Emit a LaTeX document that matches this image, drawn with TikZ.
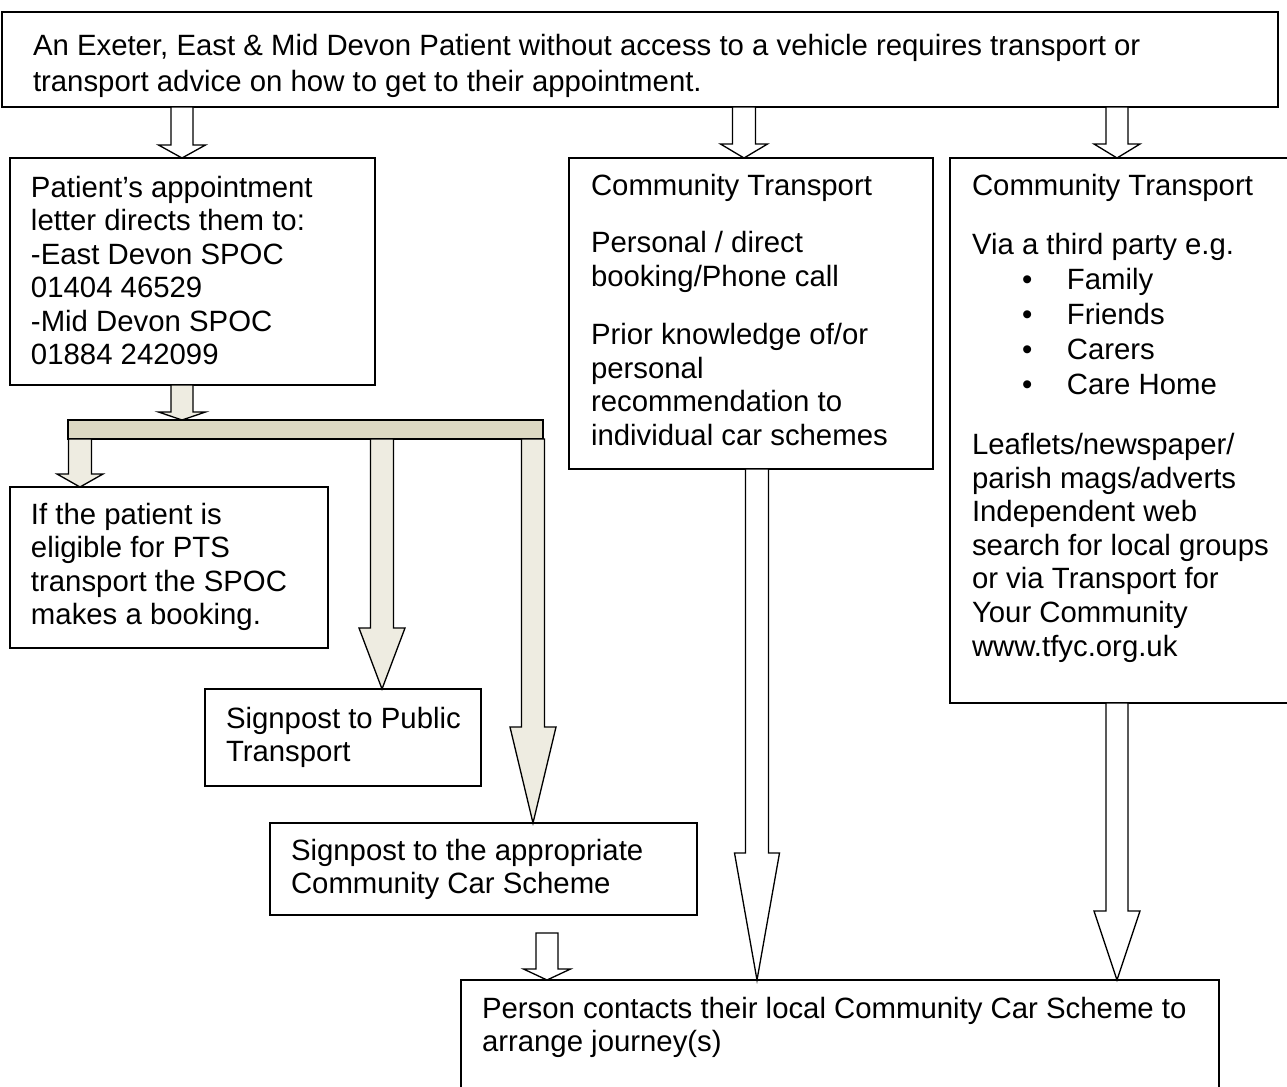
\documentclass[tikz,border=0pt]{standalone}
\usepackage{fontspec}
\setmainfont{Liberation Sans}
\usetikzlibrary{calc,fit}
\definecolor{beigeL}{HTML}{EEECE1}
\definecolor{beigeD}{HTML}{DDD9C3}
\def\pxu{0.56906pt}
% #1 style, #2 start coordinate, #3 tip coordinate, #4 shaft half width (px), #5 head half width (px), #6 head length (px)
\newcommand\blkarrow[6]{%
  \path[#1] let \p1=(#2), \p2=(#3) in
    ({\x1-#4*\pxu},\y1) -- ({\x1-#4*\pxu},{\y2+#6*\pxu}) -- ({\x1-#5*\pxu},{\y2+#6*\pxu})
    -- (\x1,\y2) -- ({\x1+#5*\pxu},{\y2+#6*\pxu}) -- ({\x1+#4*\pxu},{\y2+#6*\pxu})
    -- ({\x1+#4*\pxu},\y1) -- cycle;}
\newcommand\bulitem{\hspace*{28.5pt}\makebox[25.5pt][l]{•}}
\begin{document}
\begin{tikzpicture}[x=0.02cm,y=-0.02cm,
  box/.style={draw=black,line width=1pt,fill=white,inner sep=0pt,outer sep=0pt},
  barbox/.style={draw=black,line width=1pt,fill=beigeD,inner sep=0pt,outer sep=0pt},
  txt/.style={anchor=north west,inner sep=0pt,outer sep=0pt,align=left,yshift=20pt,
    font=\fontsize{16.7}{19.1}\selectfont},
  hollow/.style={draw=black,line width=0.75pt,fill=white,line join=miter},
  beige/.style={draw=black,line width=0.75pt,fill=beigeL,line join=miter}]
\useasboundingbox (0,0) rectangle (1287,1086);

% boxes
\node[box,fit={(2,12)(1278,107)}] (top) {};
\node[box,fit={(10,158)(375,385)}] (patient) {};
\node[box,fit={(569,158)(933,469)}] (ctA) {};
\node[box,fit={(950,158)(1296,703)}] (ctB) {};
\node[barbox,fit={(68,420)(543,439)}] (bar) {};
\node[box,fit={(10,487)(328,648)}] (pts) {};
\node[box,fit={(205,689)(481,786)}] (public) {};
\node[box,fit={(270,823)(697,915)}] (ccs) {};
\node[box,fit={(461,980)(1219,1100)}] (final) {};
\coordinate (gapA) at (547,933);

% arrows
\blkarrow{hollow}{182,0 |- top.south}{182,0 |- patient.north}{11}{23.5}{13}
\blkarrow{hollow}{744,0 |- top.south}{744,0 |- ctA.north}{11.5}{23.5}{14}
\blkarrow{hollow}{1117,0 |- top.south}{1117,0 |- ctB.north}{11}{23}{14}
\blkarrow{beige}{182,0 |- patient.south}{182,0 |- bar.north}{11}{23.5}{8}
\blkarrow{beige}{80,0 |- bar.south}{80,0 |- pts.north}{11.5}{23}{13}
\blkarrow{beige}{382,0 |- bar.south}{382,0 |- public.north}{11.5}{23}{61}
\blkarrow{beige}{533,0 |- bar.south}{533,0 |- ccs.north}{11.5}{23}{96}
\blkarrow{hollow}{gapA}{gapA |- final.north}{11}{23.5}{11}
\blkarrow{hollow}{757,0 |- ctA.south}{757,0 |- final.north}{11.5}{22.5}{127}
\blkarrow{hollow}{1117,0 |- ctB.south}{1117,0 |- final.north}{11}{23}{69}

% texts
\node[txt,font=\fontsize{16.7}{20.6}\selectfont] (tTop) at (33,55)
  {\rule{0pt}{20pt}An Exeter, East \& Mid Devon Patient without access to a vehicle requires transport or\\
   transport advice on how to get to their appointment.};
\node[txt] (tPatient) at (31,197)
  {\rule{0pt}{20pt}Patient’s appointment\\letter directs them to:\\-East Devon SPOC\\01404 46529\\-Mid Devon SPOC\\01884 242099};
\node[txt] (tPts) at (31,524)
  {\rule{0pt}{20pt}If the patient is\\eligible for PTS\\transport the SPOC\\makes a booking.};
\node[txt] (tPublic) at (226,728)
  {\rule{0pt}{20pt}Signpost to Public\\Transport};
\node[txt] (tCcs) at (291,860)
  {\rule{0pt}{20pt}Signpost to the appropriate\\Community Car Scheme};
\node[txt] (tFinal) at (482,1018)
  {\rule{0pt}{20pt}Person contacts their local Community Car Scheme to\\arrange journey(s)};
\node[txt] (tCtA) at (591,195)
  {\rule{0pt}{20pt}Community Transport\\[13.9pt]
   Personal / direct\\booking/Phone call\\[13.9pt]
   Prior knowledge of/or\\personal\\recommendation to\\individual car schemes};
\node[txt] (tCtB) at (972,195)
  {\rule{0pt}{20pt}Community Transport\\[15pt]
   Via a third party e.g.\\[0.8pt]
   \bulitem Family\\[0.8pt]
   \bulitem Friends\\[0.8pt]
   \bulitem Carers\\[0.8pt]
   \bulitem Care Home\\[15pt]
   Leaflets/newspaper/\\parish mags/adverts\\Independent web\\search for local groups\\or via Transport for\\Your Community\\www.tfyc.org.uk};
\end{tikzpicture}
\end{document}
